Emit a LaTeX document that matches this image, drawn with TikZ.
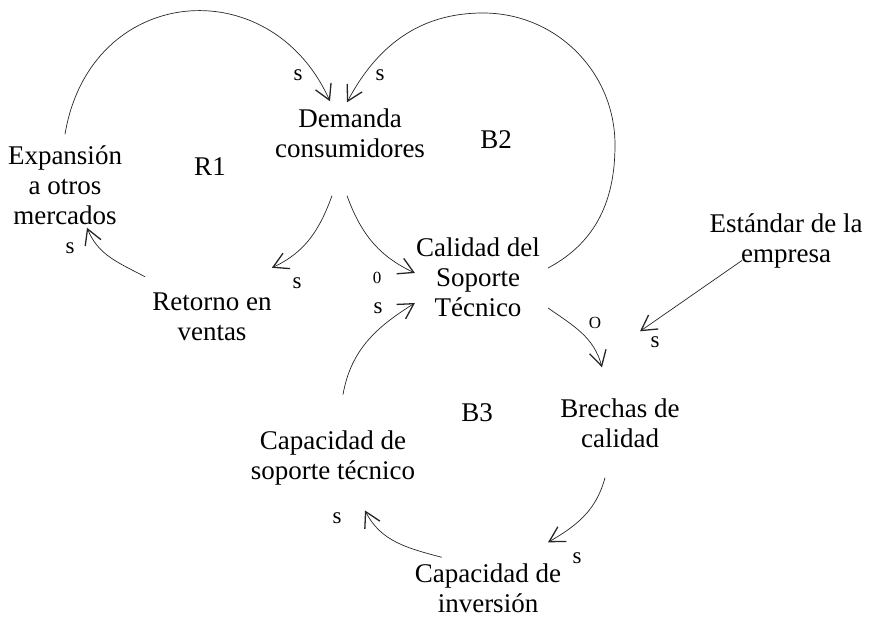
\documentclass[tikz,border=0pt]{standalone}
\usepackage{fontspec}
\setmainfont{Liberation Serif}
\usetikzlibrary{arrows.meta}

\begin{document}
\begin{tikzpicture}[x=1pt, y=1pt,
    var/.style={align=center, inner sep=2pt, font=\fontsize{27}{30}\selectfont},
    loopname/.style={inner sep=0pt, font=\fontsize{27}{30}\selectfont},
    sign/.style={inner sep=0pt, font=\fontsize{23}{23}\selectfont},
    smallsign/.style={inner sep=0pt, font=\fontsize{17}{17}\selectfont},
    link/.style={line width=0.7pt, black!85,
      -{Straight Barb[length=15pt,width=17pt,line width=1.3pt]}}]
        \useasboundingbox (0,0) rectangle (878,619);
        % variables
        \node[var] (dem) at (350,486) {Demanda\\consumidores};
        \node[var] (exp) at (65,434) {Expansión\\a otros\\mercados};
        \node[var] (ret) at (212,302) {Retorno en\\ventas};
        \node[var] (cal) at (478,342) {Calidad del\\Soporte\\Técnico};
        \node[var] (est) at (786,378) {Estándar de la\\empresa};
        \node[var] (bre) at (620,196) {Brechas de\\calidad};
        \node[var] (cso) at (333,161) {Capacidad de\\soporte técnico};
        \node[var] (cin) at (488,31) {Capacidad de\\inversión};
        % loops
        \node[loopname] (r1) at (210,452) {R1};
        \node[loopname] (b2) at (496,479) {B2};
        \node[loopname] (b3) at (477,206) {B3};
        \coordinate (b2r) at (615,474);
        \coordinate (b2t) at (483,606);
        % links
        \draw[link] ([yshift=9]exp.north) .. controls +(25,150) and +(-60,133) .. ([shift={(-20,5)}]dem.north);
        \draw[link] ([shift={(6,9)}]cal.east) to[out=28,in=-90] (b2r) to[out=90,in=0] (b2t) to[out=180,in=62] ([shift={(-3,4)}]dem.north);
        \draw[link] ([shift={(-18,-36)}]dem.south) to[out=-110,in=25] ([shift={(-2,23)}]ret.north east);
        \draw[link] ([shift={(-3,-36)}]dem.south) to[out=-70,in=155] ([shift={(1,4)}]cal.west);
        \draw[link] ([shift={(-5,14)}]ret.north west) to[out=152,in=-68] ([shift={(22,-1)}]exp.south);
        \draw[link] ([shift={(10,34)}]cso.north) to[out=80,in=-148] ([shift={(1,-26)}]cal.west);
        \draw[link] ([shift={(6,-31)}]cal.east) to[out=-35,in=105] ([shift={(-18,29)}]bre.north);
        \draw[link] ([shift={(-44,10)}]est.south) -- ([shift={(20,65)}]bre.north);
        \draw[link] ([shift={(-15,-28)}]bre.south) to[out=-105,in=30] ([shift={(60,19)}]cin.north);
        \draw[link] ([shift={(29,4)}]cin.north west) to[out=165,in=-63] ([shift={(32,-23)}]cso.south);
        % signs
        \node[sign] (s1) at (298,544) {s};
        \node[sign] (s2) at (380,544) {s};
        \node[sign] (s3) at (297,336) {s};
        \node[smallsign] (s4) at (377,341) {0};
        \node[sign] (s5) at (70,371) {s};
        \node[sign] (s6) at (378,311) {s};
        \node[smallsign] (s7) at (595,296) {O};
        \node[sign] (s8) at (655,277) {s};
        \node[sign] (s9) at (577,61) {s};
        \node[sign] (s10) at (337,101) {s};
      \end{tikzpicture}
\end{document}
